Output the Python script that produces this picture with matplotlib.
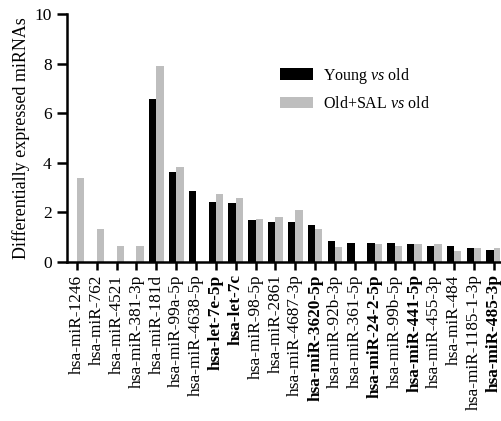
import matplotlib
matplotlib.use("Agg")
import matplotlib.pyplot as plt
import matplotlib.transforms as mtrans
import numpy as np
from matplotlib.patches import FancyBboxPatch
from matplotlib.legend_handler import HandlerPatch

plt.rcParams["font.family"] = ["Liberation Serif", "DejaVu Serif"]
plt.rcParams["mathtext.fontset"] = "custom"
plt.rcParams["mathtext.rm"] = "Liberation Serif"
plt.rcParams["mathtext.it"] = "Liberation Serif:italic"

mirnas = [
    "hsa-miR-1246", "hsa-miR-762", "hsa-miR-4521", "hsa-miR-381-3p",
    "hsa-miR-181d", "hsa-miR-99a-5p", "hsa-miR-4638-5p", "hsa-let-7e-5p",
    "hsa-let-7c", "hsa-miR-98-5p", "hsa-miR-2861", "hsa-miR-4687-3p",
    "hsa-miR-3620-5p", "hsa-miR-92b-3p", "hsa-miR-361-5p", "hsa-miR-24-2-5p",
    "hsa-miR-99b-5p", "hsa-miR-441-5p", "hsa-miR-455-3p", "hsa-miR-484",
    "hsa-miR-1185-1-3p", "hsa-miR-485-3p",
]
bold_labels = ["hsa-let-7e-5p", "hsa-let-7c", "hsa-miR-3620-5p",
               "hsa-miR-24-2-5p", "hsa-miR-441-5p", "hsa-miR-485-3p"]

young_vs_old = [0, 0, 0, 0, 6.58, 3.62, 2.88, 2.43, 2.39, 1.70, 1.63, 1.63,
                1.49, 0.85, 0.77, 0.75, 0.75, 0.74, 0.66, 0.65, 0.55, 0.50]
sal_vs_old = [3.40, 1.32, 0.66, 0.65, 7.89, 3.82, 0, 2.73, 2.60, 1.72, 1.82, 2.10,
              1.32, 0.61, 0, 0.73, 0.65, 0.71, 0.73, 0.44, 0.56, 0.55]


class RoundHandler(HandlerPatch):
    # rounded rectangle swatch like the original legend
    def create_artists(self, legend, orig_handle, xdescent, ydescent,
                       width, height, fontsize, trans):
        p = FancyBboxPatch((-xdescent, -ydescent), width, height,
                           boxstyle="round,pad=0,rounding_size=2",
                           facecolor=orig_handle.get_facecolor(),
                           edgecolor="none", transform=trans)
        return [p]


fig = plt.figure(figsize=(5.02, 4.21), dpi=100)
ax = fig.add_axes([0.1335, 0.3777, 0.862, 0.589])

x = np.arange(len(mirnas))
w = 0.37
b1 = ax.bar(x - w / 2, young_vs_old, w, color="black")
b2 = ax.bar(x + w / 2, sal_vs_old, w, color="#bebebe")

ax.set_xlim(-0.5, 21.3)
ax.set_ylim(0, 10)
ax.set_yticks([0, 2, 4, 6, 8, 10])
ax.set_xticks(x)
ax.set_xticklabels(mirnas, rotation=90, fontsize=12.4)
labels = ax.get_xticklabels()
for i, lab in enumerate(labels):
    dx = -1.5 if i < len(labels) - 1 else -4.5
    shift = mtrans.ScaledTranslation(dx / 72, 0, fig.dpi_scale_trans)
    lab.set_transform(lab.get_transform() + shift)
    if lab.get_text() in bold_labels:
        lab.set_fontweight("bold")

ax.tick_params(axis="y", labelsize=12.5, width=1.8, length=7, pad=4)
ax.tick_params(axis="x", width=1.8, length=6, pad=3)
for s in ["top", "right"]:
    ax.spines[s].set_visible(False)
for s in ["left", "bottom"]:
    ax.spines[s].set_linewidth(1.8)

ax.set_ylabel("Differentially expressed miRNAs", fontsize=13, labelpad=3)

ax.legend(handles=[b1.patches[4], b2.patches[0]],
          labels=["Young $\\mathit{vs}$ old", "Old+SAL $\\mathit{vs}$ old"],
          handler_map={FancyBboxPatch: RoundHandler()},
          loc="upper left", bbox_to_anchor=(0.458, 0.85), frameon=False,
          fontsize=11.5, handlelength=2.1, handleheight=0.75, labelspacing=0.65,
          handletextpad=0.6)

fig.savefig("out.png", dpi=100)
